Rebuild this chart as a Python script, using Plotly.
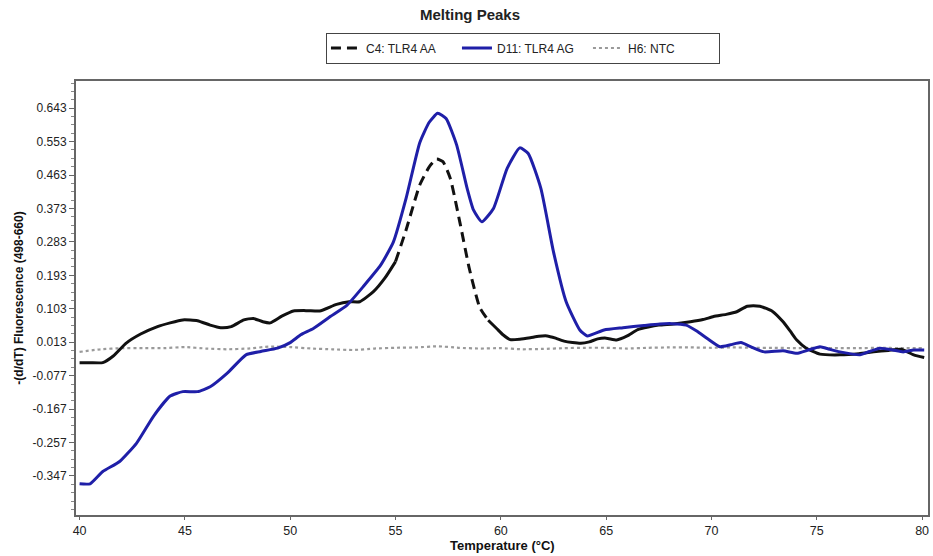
import plotly.graph_objects as go

# Melting-curve derivative data: temperature (°C) and -(d/dT) fluorescence (498-660)
temp_c4 = [40.0, 40.5, 41.1, 41.6, 42.2, 42.9, 43.7, 44.3, 44.9, 45.6, 46.2, 46.7, 47.2,
           47.8, 48.25, 48.7, 49.05, 49.6, 50.15, 50.8, 51.4, 52.2, 52.8, 53.3, 53.95,
           54.5, 55.0, 55.5, 56.15, 56.6, 56.95, 57.25, 57.6, 58.05, 58.5, 59.0, 59.4,
           59.8, 60.1, 60.45, 60.9, 61.4, 61.8, 62.2, 62.6, 63.0, 63.4, 63.8, 64.2, 64.6,
           65.0, 65.5, 66.0, 66.5, 67.0, 67.5, 68.2, 69.0, 69.6, 70.1, 70.7, 71.2, 71.7,
           72.3, 72.9, 73.4, 73.75, 74.05, 74.5, 75.15, 76.1, 77.0, 77.7, 78.4, 79.0,
           79.6, 80.1]
c4_tlr4_aa = [-0.042, -0.042, -0.042, -0.024, 0.010, 0.035, 0.055, 0.065, 0.073, 0.071,
              0.059, 0.052, 0.055, 0.073, 0.077, 0.068, 0.065, 0.083, 0.097, 0.098, 0.097,
              0.115, 0.122, 0.122, 0.149, 0.186, 0.230, 0.315, 0.436, 0.485, 0.506, 0.499,
              0.454, 0.337, 0.212, 0.106, 0.072, 0.050, 0.033, 0.020, 0.021, 0.025, 0.029,
              0.030, 0.024, 0.016, 0.012, 0.010, 0.014, 0.022, 0.024, 0.019, 0.030, 0.047,
              0.054, 0.059, 0.062, 0.068, 0.074, 0.082, 0.088, 0.095, 0.110, 0.110, 0.096,
              0.068, 0.042, 0.019, -0.003, -0.019, -0.021, -0.018, -0.013, -0.009, -0.006,
              -0.021, -0.028]

temp_d11 = [40.0, 40.5, 41.1, 41.9, 42.7, 43.5, 44.3, 44.9, 45.6, 46.2, 47.0, 47.9, 48.6,
            49.4, 50.0, 50.5, 51.1, 51.9, 52.7, 53.5, 54.3, 54.9, 55.5, 56.15, 56.6, 57.0,
            57.4, 57.9, 58.4, 58.7, 59.1, 59.65, 60.3, 60.9, 61.3, 61.9, 62.5, 63.1, 63.75,
            64.1, 64.9, 65.8, 66.8, 67.55, 68.1, 68.8, 69.3, 69.8, 70.4, 70.9, 71.4, 71.9,
            72.5, 73.4, 74.05, 74.6, 75.15, 75.6, 76.1, 77.05, 77.5, 78.0, 78.6, 79.1,
            79.6, 80.1]
d11_tlr4_ag = [-0.368, -0.368, -0.335, -0.308, -0.259, -0.187, -0.132, -0.120, -0.120,
               -0.107, -0.071, -0.021, -0.012, -0.003, 0.012, 0.033, 0.050, 0.082, 0.113,
               0.165, 0.221, 0.283, 0.400, 0.550, 0.605, 0.629, 0.615, 0.544, 0.427, 0.369,
               0.337, 0.373, 0.481, 0.536, 0.521, 0.427, 0.256, 0.122, 0.046, 0.030, 0.046,
               0.052, 0.058, 0.062, 0.063, 0.059, 0.043, 0.023, 0.001, 0.006, 0.012, 0.000,
               -0.013, -0.010, -0.017, -0.008, 0.001, -0.006, -0.013, -0.021, -0.012,
               -0.003, -0.008, -0.013, -0.008, -0.008]

temp_h6 = list(range(40, 81))
h6_ntc = [-0.013, -0.006, -0.003, -0.003, -0.003, 0.000, -0.004, -0.006, -0.004, 0.001,
          0.000, -0.004, -0.006, -0.008, -0.004, -0.002, -0.001, 0.002, -0.002, -0.004,
          -0.003, -0.006, -0.005, -0.003, -0.002, -0.002, -0.004, -0.002, -0.001, -0.001,
          -0.002, -0.001, -0.002, -0.002, -0.003, -0.002, -0.003, -0.003, -0.002, -0.003,
          -0.003]

y_ticks = [0.643, 0.553, 0.463, 0.373, 0.283, 0.193, 0.103, 0.013, -0.077, -0.167,
           -0.257, -0.347]
x_ticks = [40, 45, 50, 55, 60, 65, 70, 75, 80]

# C4 peak segment is drawn dashed, the rest of the trace solid
PEAK_LO, PEAK_HI = 55.0, 59.4

solid_y = [v if not (PEAK_LO < t < PEAK_HI) else None for t, v in zip(temp_c4, c4_tlr4_aa)]
dash_y = [v if PEAK_LO <= t <= PEAK_HI else None for t, v in zip(temp_c4, c4_tlr4_aa)]

BLACK = "#111111"
BLUE = "#1f1fa8"
GRAY = "#9a9a9a"
SHAPE = dict(shape="spline", smoothing=0.5)

fig = go.Figure()
fig.add_trace(go.Scatter(x=temp_h6, y=h6_ntc, mode="lines", name="H6: NTC",
                         legendrank=3,
                         line=dict(color=GRAY, width=2.2, dash="dot", **SHAPE)))
fig.add_trace(go.Scatter(x=temp_c4, y=solid_y, mode="lines", name="C4: TLR4 AA",
                         showlegend=False, legendgroup="c4",
                         line=dict(color=BLACK, width=3, **SHAPE)))
fig.add_trace(go.Scatter(x=temp_c4, y=dash_y, mode="lines", name="C4: TLR4 AA",
                         legendgroup="c4", legendrank=1,
                         line=dict(color=BLACK, width=3, dash="10px,6px", **SHAPE)))
fig.add_trace(go.Scatter(x=temp_d11, y=d11_tlr4_ag, mode="lines", name="D11: TLR4 AG",
                         legendrank=2,
                         line=dict(color=BLUE, width=3, **SHAPE)))

AXIS_FONT = "Liberation Sans Narrow, Arial Narrow, Liberation Sans, Arial, sans-serif"

PLOT_H = 556 - 81 - 41

fig.update_layout(
    width=933, height=556,
    margin=dict(l=76, r=5, t=81, b=41, autoexpand=False),
    paper_bgcolor="white", plot_bgcolor="white",
    font=dict(family="Liberation Sans, Arial, sans-serif", size=12, color="#222222"),
    title=dict(text="<b>Melting Peaks</b>", x=470 / 933, xanchor="center",
               y=1 - 15 / 556, yanchor="middle",
               font=dict(size=15, color="#222222")),
    legend=dict(orientation="h", x=0.5246, xanchor="center",
                y=1 + 33 / PLOT_H, yanchor="middle",
                bordercolor="#444444", borderwidth=1, bgcolor="white",
                font=dict(size=12, color="#222222"), itemwidth=30,
                entrywidth=86, tracegroupgap=0),
    showlegend=True,
    annotations=[dict(text="<b>Temperature (°C)</b>", xref="paper", yref="paper",
                      x=0.5, y=-40 / PLOT_H, xanchor="center", yanchor="bottom",
                      showarrow=False,
                      font=dict(family=AXIS_FONT, size=13, color="#111111"))],
)

fig.update_xaxes(
    range=[39.83, 80.28], tickvals=x_ticks, ticktext=[str(v) for v in x_ticks],
    automargin=False,
    showgrid=False, zeroline=False,
    showline=True, linecolor="#666666", linewidth=2, mirror=True,
    ticks="outside", ticklen=3, tickcolor="#666666",
    tickfont=dict(family=AXIS_FONT, size=12.5, color="#222222"),
)
fig.update_yaxes(
    range=[-0.452, 0.716], tickvals=y_ticks, ticktext=[f"{v:.3f}" for v in y_ticks],
    automargin=False,
    showgrid=False, zeroline=False,
    showline=True, linecolor="#666666", linewidth=2, mirror=True,
    ticks="outside", ticklen=5, tickcolor="#666666",
    minor=dict(ticks="outside", ticklen=3, tickcolor="#888888", dtick=0.0225,
               tick0=0.013, showgrid=False),
    tickfont=dict(size=12, color="#222222"),
    title=dict(text="<b>-(d/dT) Fluorescence (498-660)</b>", standoff=6,
               font=dict(size=12, color="#111111")),
)

fig.write_html("out.html")
